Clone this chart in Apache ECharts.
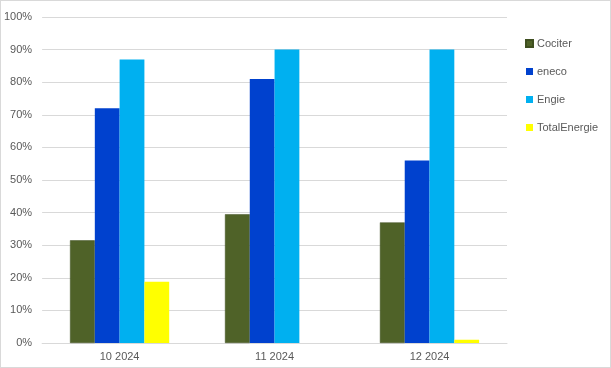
<!DOCTYPE html>
<html><head><meta charset="utf-8">
<script src="https://cdn.jsdelivr.net/npm/echarts@6/dist/echarts.min.js"></script>
<style>html,body{margin:0;padding:0;background:#fff}#c{width:609px;height:366px;border:1px solid #d9d9d9}</style>
</head><body><div id="c"></div>
<script>
const categories = ['10 2024', '11 2024', '12 2024'];
const seriesNames = ['Cociter', 'eneco', 'Engie', 'TotalEnergie'];
const cociter = [0.315, 0.395, 0.37];
const eneco = [0.72, 0.81, 0.56];
const engie = [0.87, 0.90, 0.90];
const totalEnergie = [0.188, 0, 0.01];
const colors = ['#4F6228', '#0041CE', '#00B0F0', '#FFFF00'];
const values = [cociter, eneco, engie, totalEnergie];

const chart = echarts.init(document.getElementById('c'));
const font = 'Liberation Sans, Arial, sans-serif';
chart.setOption({
  animation: false,
  textStyle: {fontFamily: font},
  grid: {left: 40, right: 103, top: 16, bottom: 24},
  legend: {
    orient: 'vertical', left: 519, top: 32, itemGap: 17,
    itemWidth: 7, itemHeight: 7, icon: 'rect',
    textStyle: {color: '#595959', fontSize: 11, fontFamily: font, padding: [0,0,0,-1]},
    data: seriesNames
  },
  xAxis: {
    type: 'category', data: categories,
    axisLine: {lineStyle: {color: '#d9d9d9', width: 1}},
    axisTick: {show: false},
    axisLabel: {color: '#595959', fontSize: 11, margin: 8}
  },
  yAxis: {
    type: 'value', min: 0, max: 1, interval: 0.1,
    axisLine: {show: false}, axisTick: {show: false},
    splitLine: {lineStyle: {color: '#d9d9d9', width: 1}},
    axisLabel: {color: '#595959', fontSize: 11, margin: 10,
      formatter: v => Math.round(v * 100) + '%'}
  },
  series: seriesNames.map((n, i) => ({
    name: n, type: 'bar', data: values[i],
    barGap: '0%', barCategoryGap: '36%',
    itemStyle: {color: colors[i], borderColor: i === 0 ? '#3F4F20' : colors[i], borderWidth: i === 0 ? 0.5 : 0}
  }))
});
</script></body></html>
